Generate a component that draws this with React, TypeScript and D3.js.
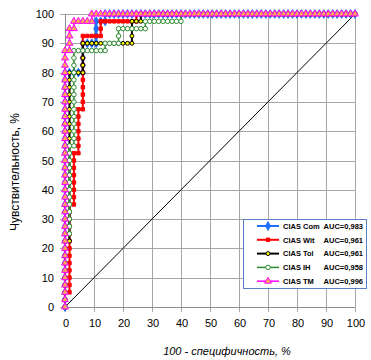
import React from "react";
import * as d3 from "d3";

// ROC data: [false-positive count, true-positive count]
const N_NEG = 65;
const N_POS = 40;

const comPts: [number, number][] = [
  [0,0],[0,1],[0,2],[0,3],[0,4],[0,5],[0,6],[0,7],[0,8],[0,9],[0,10],[0,11],[0,12],[0,13],[0,14],[0,15],[0,16],[0,17],[0,18],[0,19],[0,20],[0,21],[0,22],[0,23],[0,24],[0,25],[0,26],[0,27],[0,28],[0,29],[0,30],[0,31],[0,32],
  [1,32],[2,32],[3,32],[4,32],[4,33],[4,34],[4,35],[4,36],[5,36],[6,36],[7,36],[7,37],[7,38],[7,39],[8,39],[9,39],
  [9,40],[10,40],[11,40],[12,40],[13,40],[14,40],[15,40],[16,40],[17,40],[18,40],[19,40],[20,40],[21,40],[22,40],[23,40],[24,40],[25,40],[26,40],[27,40],[28,40],[29,40],[30,40],[31,40],[32,40],[33,40],[34,40],[35,40],[36,40],[37,40],[38,40],[39,40],[40,40],[41,40],[42,40],[43,40],[44,40],[45,40],[46,40],[47,40],[48,40],[49,40],[50,40],[51,40],[52,40],[53,40],[54,40],[55,40],[56,40],[57,40],[58,40],[59,40],[60,40],[61,40],[62,40],[63,40],[64,40],[65,40],
];

const witPts: [number, number][] = [
  [0,0],[0,1],[0,2],
  [1,2],[1,3],[1,4],[1,5],[1,6],[1,7],[1,8],[1,9],[1,10],[1,11],[1,12],[1,13],[1,14],
  [2,14],[2,15],[2,16],[2,17],[2,18],[2,19],[2,20],[2,21],
  [3,21],[3,22],[3,23],[3,24],[3,25],[3,26],[3,27],
  [4,27],[4,28],[4,29],[4,30],[4,31],[4,32],[4,33],[4,34],[4,35],[4,36],[4,37],
  [5,37],[6,37],[7,37],[8,37],[8,38],[8,39],
  [9,39],[10,39],[11,39],[12,39],[13,39],[14,39],[15,39],[16,39],
  [16,40],[17,40],[18,40],[19,40],[20,40],[21,40],[22,40],[23,40],[24,40],[25,40],[26,40],[27,40],[28,40],[29,40],[30,40],[31,40],[32,40],[33,40],[34,40],[35,40],[36,40],[37,40],[38,40],[39,40],[40,40],[41,40],[42,40],[43,40],[44,40],[45,40],[46,40],[47,40],[48,40],[49,40],[50,40],[51,40],[52,40],[53,40],[54,40],[55,40],[56,40],[57,40],[58,40],[59,40],[60,40],[61,40],[62,40],[63,40],[64,40],[65,40],
];

const tolPts: [number, number][] = [
  [0,0],[0,1],[0,2],[0,3],[0,4],[0,5],[0,6],[0,7],[0,8],[0,9],
  [1,9],[1,10],[1,11],[1,12],[1,13],[1,14],[1,15],[1,16],[1,17],[1,18],[1,19],[1,20],[1,21],[1,22],[1,23],[1,24],[1,25],[1,26],[1,27],[1,28],[1,29],[1,30],[1,31],[1,32],
  [2,32],[3,32],[4,32],[4,33],[4,34],[4,35],[4,36],
  [5,36],[6,36],[7,36],[8,36],[9,36],[10,36],[11,36],[12,36],[13,36],[14,36],[15,36],
  [15,37],[15,38],[15,39],[16,39],[17,39],
  [17,40],[18,40],[19,40],[20,40],[21,40],[22,40],[23,40],[24,40],[25,40],[26,40],[27,40],[28,40],[29,40],[30,40],[31,40],[32,40],[33,40],[34,40],[35,40],[36,40],[37,40],[38,40],[39,40],[40,40],[41,40],[42,40],[43,40],[44,40],[45,40],[46,40],[47,40],[48,40],[49,40],[50,40],[51,40],[52,40],[53,40],[54,40],[55,40],[56,40],[57,40],[58,40],[59,40],[60,40],[61,40],[62,40],[63,40],[64,40],[65,40],
];

const ihPts: [number, number][] = [
  [0,0],[0,1],[0,2],[0,3],[0,4],[0,5],[0,6],[0,7],[0,8],[0,9],[0,10],
  [1,10],[1,11],[1,12],[1,13],[1,14],[1,15],[1,16],[1,17],[1,18],[1,19],[1,20],[1,21],[1,22],
  [2,22],[2,23],[2,24],[2,25],[2,26],[2,27],[2,28],[2,29],[2,30],[2,31],[2,32],[2,33],[2,34],[2,35],
  [3,35],[4,35],[5,35],[6,35],[7,35],[8,35],[9,35],[9,36],
  [10,36],[11,36],[12,36],[12,37],[12,38],
  [13,38],[14,38],[15,38],[16,38],[17,38],[18,38],[18,39],
  [19,39],[20,39],[21,39],[22,39],[23,39],[24,39],[25,39],[26,39],
  [26,40],[27,40],[28,40],[29,40],[30,40],[31,40],[32,40],[33,40],[34,40],[35,40],[36,40],[37,40],[38,40],[39,40],[40,40],[41,40],[42,40],[43,40],[44,40],[45,40],[46,40],[47,40],[48,40],[49,40],[50,40],[51,40],[52,40],[53,40],[54,40],[55,40],[56,40],[57,40],[58,40],[59,40],[60,40],[61,40],[62,40],[63,40],[64,40],[65,40],
];

const tmPts: [number, number][] = [
  [0,0],[0,1],[0,2],[0,3],[0,4],[0,5],[0,6],[0,7],[0,8],[0,9],[0,10],[0,11],[0,12],[0,13],[0,14],[0,15],[0,16],[0,17],[0,18],[0,19],[0,20],[0,21],[0,22],[0,23],[0,24],[0,25],[0,26],[0,27],[0,28],[0,29],[0,30],[0,31],[0,32],[0,33],[0,34],[0,35],
  [1,35],[1,36],[1,37],[1,38],[2,38],[2,39],[3,39],[4,39],[5,39],[6,39],
  [6,40],[7,40],[8,40],[9,40],[10,40],[11,40],[12,40],[13,40],[14,40],[15,40],[16,40],[17,40],[18,40],[19,40],[20,40],[21,40],[22,40],[23,40],[24,40],[25,40],[26,40],[27,40],[28,40],[29,40],[30,40],[31,40],[32,40],[33,40],[34,40],[35,40],[36,40],[37,40],[38,40],[39,40],[40,40],[41,40],[42,40],[43,40],[44,40],[45,40],[46,40],[47,40],[48,40],[49,40],[50,40],[51,40],[52,40],[53,40],[54,40],[55,40],[56,40],[57,40],[58,40],[59,40],[60,40],[61,40],[62,40],[63,40],[64,40],[65,40],
];

const seriesNames = ["CIAS Com", "CIAS Wit", "CIAS Tol", "CIAS IH", "CIAS TM"];
const aucLabels = ["AUC=0,983", "AUC=0,961", "AUC=0,961", "AUC=0,958", "AUC=0,996"];
const refLine: [number, number][] = [[0, 0], [100, 100]];
const xTicks = [0, 10, 20, 30, 40, 50, 60, 70, 80, 90, 100];
const yTicks = [0, 10, 20, 30, 40, 50, 60, 70, 80, 90, 100];

const W = 371, H = 360;
const L = 65, R = 355, T = 14, B = 307;

type Style = { color: string; sym: d3.SymbolType; size: number; fill: string; stroke: string; lw: number };
const styles: Style[] = [
  { color: "#1f6fff", sym: d3.symbolDiamond, size: 22, fill: "#1f6fff", stroke: "#1f6fff", lw: 2 },
  { color: "#ff0000", sym: d3.symbolSquare, size: 12, fill: "#ff0000", stroke: "#ff0000", lw: 2 },
  { color: "#000000", sym: d3.symbolCircle, size: 12, fill: "#ffff00", stroke: "#000000", lw: 2 },
  { color: "#2e8b2e", sym: d3.symbolCircle, size: 16, fill: "#ffffff", stroke: "#2e8b2e", lw: 1.5 },
  { color: "#ff00ff", sym: d3.symbolTriangle, size: 20, fill: "#ffaa55", stroke: "#ff00ff", lw: 1.5 },
];

export default function App() {
  const x = d3.scaleLinear().domain([0, 100]).range([L, R]);
  const y = d3.scaleLinear().domain([0, 100]).range([B, T]);
  const all = [comPts, witPts, tolPts, ihPts, tmPts];
  const toPct = (p: [number, number]): [number, number] => [(p[0] * 100) / N_NEG, (p[1] * 100) / N_POS];
  const line = d3.line<[number, number]>().x((d) => x(d[0])).y((d) => y(d[1]));
  const font = "'Liberation Sans', Arial, sans-serif";
  const gridC = "#a6a6a6";

  const legX = 243, legY = 219, legW = 123, legH = 69;

  return (
    <svg width={W} height={H} style={{ position: "absolute", left: 0, top: 0, background: "#fff" }}>
      {/* grid */}
      {xTicks.map((t) => (
        <line key={"gx" + t} x1={Math.round(x(t)) + 0.5} x2={Math.round(x(t)) + 0.5} y1={T} y2={B + 5} stroke={gridC} strokeWidth={1} />
      ))}
      {yTicks.map((t) => (
        <line key={"gy" + t} x1={L - 5} x2={R} y1={Math.round(y(t)) + 0.5} y2={Math.round(y(t)) + 0.5} stroke={gridC} strokeWidth={1} />
      ))}
      {/* axes */}
      <line x1={L + 0.5} x2={L + 0.5} y1={T} y2={B + 0.5} stroke="#8c8c8c" />
      <line x1={L} x2={R} y1={B + 0.5} y2={B + 0.5} stroke="#8c8c8c" />
      {/* tick labels */}
      {yTicks.map((t) => (
        <text key={"ly" + t} x={54} y={y(t) + 4} textAnchor="end" fontSize={11} fontFamily={font} fill="#000">
          {t}
        </text>
      ))}
      {xTicks.map((t) => (
        <text key={"lx" + t} x={x(t) + 1} y={327} textAnchor="middle" fontSize={11} fontFamily={font} fill="#000">
          {t}
        </text>
      ))}
      {/* diagonal */}
      <path d={line(refLine) || ""} stroke="#000" strokeWidth={1} fill="none" />
      {/* series */}
      {all.map((pts, i) => {
        const st = styles[i];
        const pp = pts.map(toPct);
        const sym = d3.symbol().type(st.sym).size(st.size)() || "";
        return (
          <g key={"s" + i}>
            <path d={line(pp) || ""} stroke={st.color} strokeWidth={st.lw} fill="none" />
            {pp.map((p, j) => (
              <path key={j} d={sym} transform={`translate(${x(p[0])},${y(p[1])})`} fill={st.fill} stroke={st.stroke} strokeWidth={1} />
            ))}
          </g>
        );
      })}
      {/* legend */}
      <rect x={legX + 0.5} y={legY + 0.5} width={legW} height={legH} fill="#fff" stroke="#5b7fc7" strokeWidth={1} />
      {seriesNames.map((n, i) => {
        const st = styles[i];
        const ry = legY + 7 + i * 13.8;
        const sym = d3.symbol().type(st.sym).size(st.size)() || "";
        return (
          <g key={"lg" + i}>
            <line x1={257} x2={279} y1={ry} y2={ry} stroke={st.color} strokeWidth={st.lw} />
            <path d={sym} transform={`translate(268,${ry})`} fill={st.fill} stroke={st.stroke} strokeWidth={1} />
            <text x={283} y={ry + 2.8} fontSize={7.5} fontWeight="bold" fontFamily={font} fill="#000">
              {n}
            </text>
            <text x={363} y={ry + 2.8} textAnchor="end" fontSize={7.5} fontWeight="bold" fontFamily={font} fill="#000">
              {aucLabels[i]}
            </text>
          </g>
        );
      })}
      {/* axis titles */}
      <text transform={`translate(19,172) rotate(-90)`} textAnchor="middle" fontSize={12} fontFamily={font} fill="#000">
        Чувствительность, %
      </text>
      <text x={227} y={355} textAnchor="middle" fontSize={11} fontStyle="italic" fontFamily={font} fill="#000">
        100 - специфичность, %
      </text>
    </svg>
  );
}
